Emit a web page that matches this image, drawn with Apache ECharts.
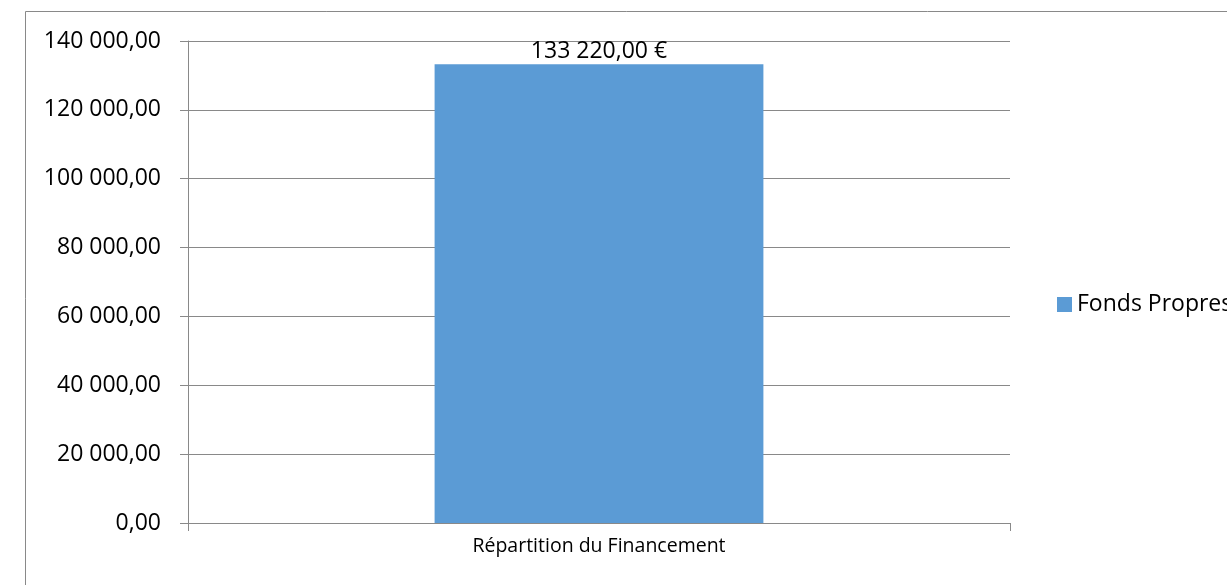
<!DOCTYPE html>
<html>
<head>
<meta charset="utf-8">
<script src="https://cdn.jsdelivr.net/npm/echarts@6/dist/echarts.min.js"></script>
<style>
  html, body { margin: 0; padding: 0; background: #fff; }
  #chart { width: 1227px; height: 585px; }
</style>
</head>
<body>
<div id="chart"></div>
<script>
const categories = ["Répartition du Financement"];
const seriesName = "Fonds Propres";
const values = [133220];
const yTicks = [0, 20000, 40000, 60000, 80000, 100000, 120000, 140000];

// "133220" -> "133 220,00"
function fmt(v) {
  const parts = Number(v).toFixed(2).split(".");
  const int = parts[0].replace(/\B(?=(\d{3})+(?!\d))/g, " ");
  return int + "," + parts[1];
}

const font = "'Open Sans', 'Liberation Sans', sans-serif";
const grey = "#898989";

const chart = echarts.init(document.getElementById("chart"));
chart.setOption({
  animation: false,
  textStyle: { fontFamily: font },
  graphic: [
    {
      type: "rect",
      shape: { x: 25.5, y: 11.5, width: 1400, height: 800 },
      style: { fill: "none", stroke: grey, lineWidth: 1 },
      silent: true,
    },
  ],
  grid: { left: 188, right: 217, top: 41, bottom: 62 },
  legend: {
    data: [seriesName],
    orient: "vertical",
    left: 1052,
    top: 288,
    icon: "rect",
    itemWidth: 15,
    itemHeight: 15,
    itemGap: 5,
    textStyle: { fontFamily: font, fontSize: 23, color: "#000" },
  },
  xAxis: {
    type: "category",
    data: categories,
    axisLine: { show: true, lineStyle: { color: grey, width: 1 } },
    axisTick: { show: true, length: 8, lineStyle: { color: grey } },
    axisLabel: { fontFamily: font, fontSize: 19.5, color: "#000", margin: 13 },
  },
  yAxis: {
    type: "value",
    min: yTicks[0],
    max: yTicks[yTicks.length - 1],
    interval: yTicks[1] - yTicks[0],
    axisLine: { show: true, lineStyle: { color: grey, width: 1 } },
    axisTick: { show: true, length: 8, lineStyle: { color: grey } },
    splitLine: { show: true, lineStyle: { color: grey, width: 1 } },
    axisLabel: {
      fontFamily: font,
      fontSize: 23,
      color: "#000",
      margin: 27,
      formatter: (v) => fmt(v),
    },
  },
  series: [
    {
      name: seriesName,
      type: "bar",
      data: values,
      barWidth: "40%",
      itemStyle: { color: "#5b9bd5" },
      label: {
        show: true,
        position: "top",
        distance: 1,
        fontFamily: font,
        fontSize: 23,
        color: "#000",
        formatter: (p) => fmt(p.value) + " €",
      },
    },
  ],
});
</script>
</body>
</html>
